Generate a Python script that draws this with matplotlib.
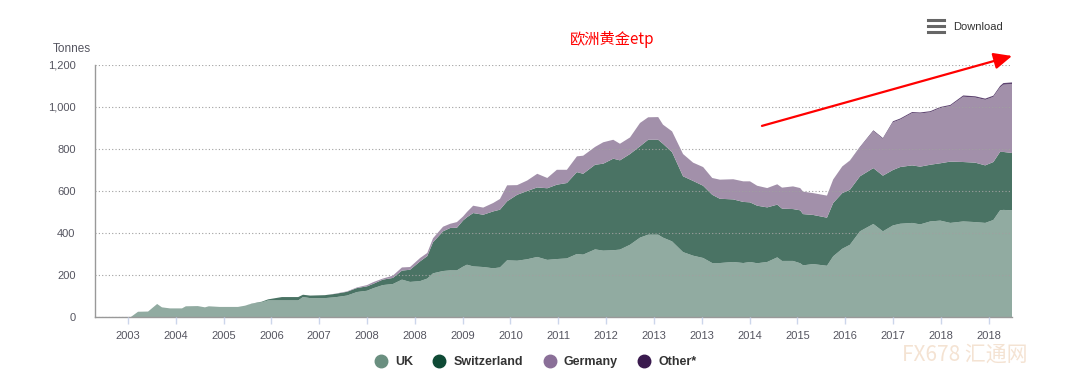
import numpy as np
import matplotlib
matplotlib.use("Agg")
import matplotlib.pyplot as plt
from matplotlib.lines import Line2D

plt.rcParams['font.family'] = ['Liberation Sans', 'Noto Sans CJK SC', 'DejaVu Sans']

# position along the axis, in tick steps (tick 0 = first "2003" label)
t = [0.00, 0.06, 0.21, 0.42, 0.61, 0.71, 0.88, 1.13, 1.21, 1.46, 1.61, 1.69, 1.92,
     2.30, 2.45, 2.59, 2.80, 2.93, 3.22, 3.56, 3.66, 3.81, 4.12, 4.33, 4.58, 4.79,
     5.00, 5.13, 5.33, 5.54, 5.73, 5.90, 6.11, 6.26, 6.38, 6.59, 6.74, 6.88, 7.01,
     7.09, 7.22, 7.43, 7.64, 7.78, 7.93, 8.14, 8.35, 8.56, 8.77, 8.97, 9.18, 9.39,
     9.52, 9.77, 9.94, 10.15, 10.29, 10.50, 10.71, 10.88, 11.09, 11.19, 11.38, 11.61,
     11.82, 12.03, 12.22, 12.38, 12.66, 12.87, 13.01, 13.16, 13.37, 13.58, 13.68,
     13.91, 14.06, 14.12, 14.33, 14.62, 14.75, 14.94, 15.10, 15.31, 15.59, 15.79,
     16.00, 16.15, 16.40, 16.57, 16.78, 16.99, 17.20, 17.47, 17.72, 17.93, 18.10,
     18.24, 18.31, 18.49]

uk = [0, 0, 25, 26, 62, 46, 41, 41, 51, 52, 46, 51, 48,
      48, 54, 63, 70, 79, 79, 79, 95, 90, 90, 94, 102, 119,
      125, 137, 152, 157, 178, 167, 171, 183, 208, 219, 222, 222, 240,
      249, 241, 238, 232, 236, 270, 268, 275, 286, 272, 276, 279, 300,
      297, 322, 316, 318, 321, 344, 378, 392, 392, 378, 360, 309,
      292, 281, 257, 257, 262, 257, 262, 256, 262, 284, 267,
      267, 256, 246, 252, 244, 289, 325, 344, 408, 443, 408,
      436, 444, 448, 441, 455, 459, 448, 455, 452, 448, 462,
      508, 510, 508]

switzerland = [0, 0, 0, 0, 0, 0, 0, 0, 0, 0, 0, 0, 0,
               0, 0, 1, 3, 5, 16, 16, 11, 12, 14, 16, 18, 19,
               21, 21, 26, 29, 43, 58, 94, 107, 148, 189, 202, 203, 220,
               226, 254, 249, 271, 275, 281, 314, 325, 331, 341, 354, 359, 390,
               385, 403, 414, 436, 425, 432, 435, 452, 452, 447, 425, 361,
               356, 344, 325, 306, 298, 291, 284, 274, 260, 251, 249,
               247, 252, 244, 234, 229, 254, 265, 262, 262, 266, 265,
               264, 270, 274, 275, 270, 273, 292, 283, 283, 274, 276,
               278, 276, 273]

germany = [0, 0, 0, 0, 0, 0, 0, 0, 0, 0, 0, 0, 0,
           0, 0, 0, 0, 0, 0, 0, 0, 0, 0, 1, 2, 3,
           6, 8, 5, 11, 15, 13, 16, 15, 19, 22, 20, 27, 19,
           25, 35, 34, 40, 51, 76, 46, 50, 65, 49, 71, 63, 75,
           86, 85, 102, 90, 79, 79, 111, 107, 108, 91, 99, 106,
           87, 89, 80, 91, 96, 98, 100, 95, 92, 97, 100,
           108, 106, 107, 104, 105, 112, 127, 138, 137, 176, 175,
           227, 226, 249, 253, 250, 263, 265, 311, 310, 312, 310,
           307, 320, 328]

other = [0, 0, 0, 0, 0, 0, 0, 0, 0, 0, 0, 0, 0,
         0, 0, 0, 0, 0, 0, 0, 0, 0, 0, 0, 0, 0,
         0, 0, 0, 0, 0, 0, 0, 0, 0, 0, 0, 0, 0,
         0, 0, 0, 0, 0, 0, 0, 0, 0, 0, 0, 0, 0,
         0, 0, 0, 0, 0, 0, 0, 0, 0, 0, 0, 0,
         0, 0, 0, 0, 0, 0, 0, 0, 0, 0, 0,
         0, 0, 0, 0, 0, 0, 0, 1, 3, 4, 4,
         5, 5, 5, 5, 5, 5, 5, 6, 6, 6, 6,
         7, 8, 8]

tick_labels = ['2003', '2004', '2005', '2006', '2007', '2008', '2008', '2009', '2010',
               '2011', '2012', '2013', '2013', '2014', '2015', '2016', '2017', '2018', '2018']

names = ['UK', 'Switzerland', 'Germany', 'Other*']
fill_colors = ['#91aba1', '#4a7364', '#a290aa', '#5e4470']
dot_colors = ['#6a8f80', '#0f4a35', '#8a6f98', '#3a1a4e']

fig = plt.figure(figsize=(10.65, 3.85), dpi=100)
ax = fig.add_axes([95 / 1065, 68 / 385, 917 / 1065, 252 / 385])

ax.stackplot(t, uk, switzerland, germany, other, colors=fill_colors, linewidth=0)

ax.set_xlim(-0.69, 18.49)
ax.set_ylim(0, 1200)
ax.set_yticks(range(0, 1201, 200))
ax.set_yticklabels([f'{v:,}' for v in range(0, 1201, 200)])
ax.set_xticks(range(len(tick_labels)))
ax.set_xticklabels(tick_labels)

ax.grid(axis='y', linestyle=(0, (1, 2)), color='#a0a0a0', linewidth=0.8)
ax.set_axisbelow(False)
for s in ['top', 'right']:
    ax.spines[s].set_visible(False)
for s in ['left', 'bottom']:
    ax.spines[s].set_color('#999999')
    ax.spines[s].set_linewidth(1)
ax.tick_params(axis='y', length=0, pad=14, labelsize=8, labelcolor='#555560')
ax.tick_params(axis='x', length=5, width=1, color='#ccd6eb', pad=5, labelsize=8, labelcolor='#555560')

fig.text(53 / 1065, 1 - 49 / 385, 'Tonnes', fontsize=8.5, color='#555560', va='center', ha='left')

fig.text(612 / 1065, 1 - 40 / 385, '欧洲黄金etp', fontsize=11, color='red', ha='center', va='center',
         family=['Noto Sans CJK SC', 'DejaVu Sans'])

# download button
for dy in [20, 26, 32]:
    fig.add_artist(Line2D([928 / 1065, 944 / 1065], [1 - dy / 385, 1 - dy / 385],
                          color='#666666', linewidth=2.2))
fig.text(953 / 1065, 1 - 27 / 385, 'Download', fontsize=8, color='#333333', va='center')

# red trend arrow
ax.annotate('', xy=(18.49, 1243), xytext=(13.26, 910),
            arrowprops=dict(arrowstyle='-|>,head_length=1.1,head_width=0.5',
                            color='red', lw=1.6, shrinkA=0, shrinkB=0),
            annotation_clip=False)

handles = [Line2D([], [], marker='o', linestyle='', markersize=9, color=c) for c in dot_colors]
leg = fig.legend(handles, names, loc='center', bbox_to_anchor=(0.5, 1 - 362 / 385), ncol=4,
                 frameon=False, handletextpad=0.15, columnspacing=1.1, fontsize=9)
for txt in leg.get_texts():
    txt.set_fontweight('bold')
    txt.set_color('#333333')

# watermark
fig.text(965 / 1065, 1 - 355 / 385, 'FX678 汇通网', fontsize=15, color='#f2dcc8', ha='center', va='center',
         family=['Noto Sans CJK SC', 'DejaVu Sans'], alpha=0.8)

fig.savefig('out.png', dpi=100)
